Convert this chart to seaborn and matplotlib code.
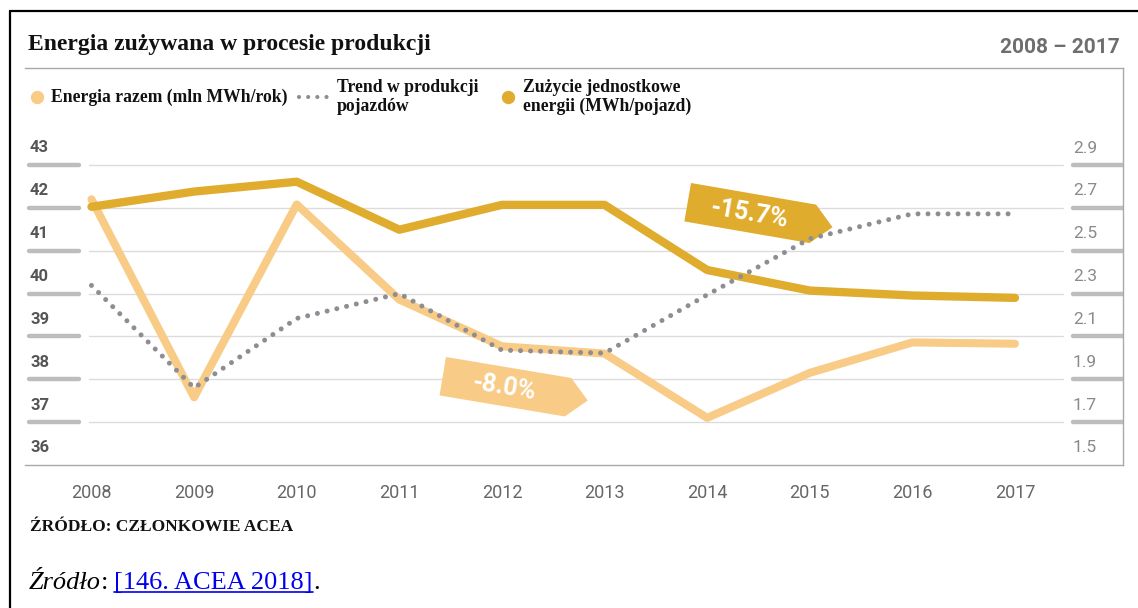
import matplotlib
matplotlib.use("Agg")
import matplotlib.pyplot as plt
import matplotlib.transforms as mtransforms
from matplotlib.lines import Line2D
from matplotlib.patches import Polygon
import numpy as np
import pandas as pd
import seaborn as sns

# ---- data -------------------------------------------------------------
years = [2008, 2009, 2010, 2011, 2012, 2013, 2014, 2015, 2016, 2017]
energia_razem = [42.2, 37.58, 42.08, 39.86, 38.77, 38.6, 37.1, 38.15, 38.86, 38.83]   # mln MWh/rok
trend_produkcji = [40.19, 37.8, 39.42, 40.0, 38.68, 38.61, 39.97, 41.28, 41.86, 41.86]
zuzycie_jednostkowe = [2.705, 2.776, 2.822, 2.598, 2.714, 2.714, 2.41, 2.314, 2.291, 2.28]  # MWh/pojazd

left_ticks = [36, 37, 38, 39, 40, 41, 42, 43]
left_tick_labels = ["36", "37", "38", "39", "40", "41", "42", "43"]
right_ticks = [1.5, 1.7, 1.9, 2.1, 2.3, 2.5, 2.7, 2.9]
right_tick_labels = ["1.5", "1.7", "1.9", "2.1", "2.3", "2.5", "2.7", "2.9"]
year_labels = [str(y) for y in years]

title = "Energia zużywana w procesie produkcji"
period = "2008 \u2013 2017"
legend_labels = ["Energia razem (mln MWh/rok)", "Trend w produkcji\npojazdów",
                 "Zużycie jednostkowe\nenergii (MWh/pojazd)"]
source_note = "ŹRÓDŁO: CZŁONKOWIE ACEA"

# ---- style ------------------------------------------------------------
LIGHT = "#F8CB86"
GOLD = "#DFAC2E"
DOTS = "#8D8D93"
GRID = "#DCDCDC"
BAR = "#BDBDBD"
FRAME = "#A9A9A9"
SERIF = "Liberation Serif"

sns.set_theme(style="white")
plt.rcParams["font.family"] = ["Roboto", "DejaVu Sans"]

W, H = 1138, 608
fig = plt.figure(figsize=(W / 100, H / 100), dpi=100)
fig.patch.set_facecolor("white")


def fx(x):
    return x / W


def fy(y):
    return 1 - y / H


df = pd.DataFrame({"rok": years, "energia": energia_razem,
                   "trend": trend_produkcji, "zuzycie": zuzycie_jednostkowe})

# main axes (left scale), twin for unit consumption, and a top layer for the trend
ax = fig.add_axes([fx(25), fy(465), (1123 - 25) / W, (465 - 68) / H])
ax2 = ax.twinx()
ax3 = ax.twinx()

step = (465 - 165) / 7.0          # pixels per unit on the left scale
top_units = (465 - 68) / step
ax.set_ylim(36, 36 + top_units)
ax3.set_ylim(36, 36 + top_units)
ax2.set_ylim(1.5, 1.5 + 0.2 * top_units)
ax.set_xlim(2007.352, 2018.053)

sns.lineplot(data=df, x="rok", y="energia", ax=ax, color=LIGHT, linewidth=5.8,
             solid_capstyle="round", solid_joinstyle="round", zorder=3)
sns.lineplot(data=df, x="rok", y="zuzycie", ax=ax2, color=GOLD, linewidth=6.0,
             solid_capstyle="round", solid_joinstyle="round", zorder=3)


# percentage badges
def badge(axis, x0, y0, text, color, angle, length=127, tip=20, height=39):
    th = np.radians(angle)
    u = np.array([np.cos(th), np.sin(th)])
    v = np.array([-np.sin(th), np.cos(th)])
    origin = np.array([x0, y0], dtype=float)
    local = [(0, 0), (length, 0), (length + tip, height / 2), (length, height), (0, height)]
    pts = [origin + a * u + b * v for a, b in local]
    axis.add_patch(Polygon([(fx(p[0]), fy(p[1])) for p in pts], closed=True,
                           transform=fig.transFigure, facecolor=color,
                           edgecolor="none", zorder=2))
    c = origin + 63 * u + 20 * v
    axis.text(fx(c[0]), fy(c[1]), text, transform=fig.transFigure, rotation=-angle,
              rotation_mode="anchor", ha="center", va="center", color="white",
              fontsize=18, fontweight="bold", zorder=2.5)


pct_energia = (energia_razem[-1] / energia_razem[0] - 1) * 100
pct_zuzycie = (zuzycie_jednostkowe[-1] / zuzycie_jednostkowe[0] - 1) * 100
badge(ax3, 446, 357, f"{pct_energia:.1f}%", LIGHT, 9.5)
badge(ax3, 691, 183, f"{pct_zuzycie:.1f}%", GOLD, 9.8)

sns.lineplot(data=df, x="rok", y="trend", ax=ax3, color=DOTS, linewidth=3.6,
             linestyle=(0, (0.001, 2.0)), dash_capstyle="round", zorder=3)

# gridlines and the short tick bars on both sides
for v in left_ticks[1:]:
    ax.axhline(v, xmin=0.0583, xmax=0.9454, color=GRID, lw=1.0, zorder=1)
    ax.axhline(v, xmin=0.0036, xmax=0.0492, color=BAR, lw=3.2, zorder=1)
    ax.axhline(v, xmin=0.9545, xmax=1.0, color=BAR, lw=3.2, zorder=1)

# y labels sit just above their bars
left_tr = mtransforms.offset_copy(
    mtransforms.blended_transform_factory(ax.transAxes, ax.transData), fig=fig, y=17, units="dots")
for v, lab in zip(left_ticks, left_tick_labels):
    ax.text(0.0046, v, lab, transform=left_tr, ha="left", va="center",
            fontsize=12, fontweight="bold", color="#555555")
right_tr = mtransforms.offset_copy(
    mtransforms.blended_transform_factory(ax2.transAxes, ax2.transData), fig=fig, y=17, units="dots")
for v, lab in zip(right_ticks, right_tick_labels):
    ax2.text(0.9545, v, lab, transform=right_tr, ha="left", va="center",
             fontsize=12.5, fontweight="normal", color="#8A8A8A")

ax.set_xticks(years)
ax.set_xticklabels(year_labels)
ax.tick_params(axis="x", length=0, pad=14, labelsize=13, labelcolor="#666666")
ax.tick_params(axis="y", left=False, labelleft=False)
ax2.tick_params(axis="y", right=False, labelright=False)
ax3.tick_params(axis="y", right=False, labelright=False)
for a in (ax, ax2, ax3):
    a.set_xlabel("")
    a.set_ylabel("")
    a.grid(False)
for a in (ax2, ax3):
    for s in a.spines.values():
        s.set_visible(False)
ax.spines["left"].set_visible(False)
for side in ("top", "right", "bottom"):
    ax.spines[side].set_color(FRAME)
    ax.spines[side].set_linewidth(1.0)

# header
fig.text(fx(28), fy(50), title, family=SERIF, fontweight="bold", fontsize=17,
         color="#111111", ha="left", va="baseline")
fig.text(fx(1120), fy(53), period, fontweight="bold", fontsize=15,
         color="#6E6E6E", ha="right", va="baseline")

# legend
leg_y = 97
fig.add_artist(Line2D([fx(37)], [fy(leg_y)], marker="o", markersize=8.6, color=LIGHT,
                      linestyle="none", transform=fig.transFigure))
fig.text(fx(51), fy(leg_y), legend_labels[0], family=SERIF, fontweight="bold",
         fontsize=12.7, color="#111111", ha="left", va="center")
fig.add_artist(Line2D([fx(299), fx(328)], [fy(leg_y), fy(leg_y)], color=DOTS, lw=3.0,
                      linestyle=(0, (0.001, 2.2)), dash_capstyle="round",
                      transform=fig.transFigure))
fig.text(fx(337), fy(leg_y), legend_labels[1], family=SERIF, fontweight="bold",
         fontsize=12.7, color="#111111", ha="left", va="center", linespacing=1.2)
fig.add_artist(Line2D([fx(508)], [fy(leg_y)], marker="o", markersize=8.6, color=GOLD,
                      linestyle="none", transform=fig.transFigure))
fig.text(fx(523), fy(leg_y), legend_labels[2], family=SERIF, fontweight="bold",
         fontsize=12.7, color="#111111", ha="left", va="center", linespacing=1.2)

# source lines
fig.text(fx(30), fy(531), source_note, family=SERIF, fontweight="bold", fontsize=12.5,
         color="#111111", ha="left", va="baseline")

renderer = fig.canvas.get_renderer()
x = 29.0
base = 589
pieces = [("Źródło", "italic", "black", False, 0),
          (":", "normal", "black", False, 6),
          ("[146. ACEA 2018]", "normal", "#0000EE", True, 0),
          (".", "normal", "black", False, 0)]
for txt, st, col, under, gap in pieces:
    t = fig.text(fx(x), fy(base), txt, family=SERIF, style=st, fontsize=19,
                 color=col, ha="left", va="baseline")
    wpx = t.get_window_extent(renderer).width
    if under:
        fig.add_artist(Line2D([fx(x), fx(x + wpx)], [fy(base + 3), fy(base + 3)],
                              color=col, lw=1.2, transform=fig.transFigure))
    x += wpx + gap

# outer frame strokes
fig.add_artist(Line2D([fx(10), fx(10)], [fy(11), 0], color="black", lw=1.6,
                      transform=fig.transFigure))
fig.add_artist(Line2D([fx(10), 1], [fy(11), fy(11)], color="black", lw=1.6,
                      transform=fig.transFigure))

fig.savefig("out.png", dpi=100, facecolor="white")
